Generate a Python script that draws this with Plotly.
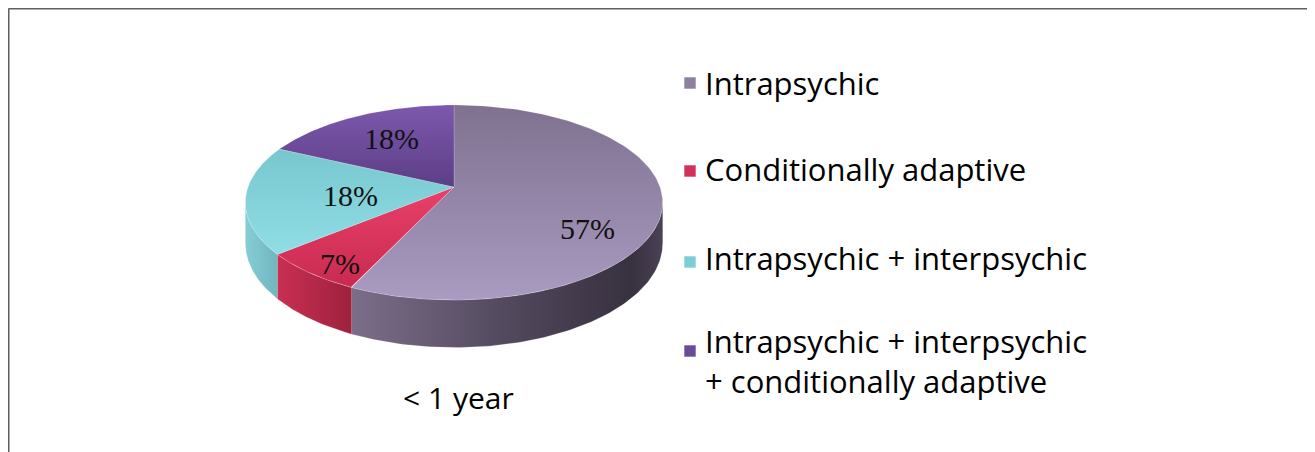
import numpy as np
import plotly.graph_objects as go

# ---- data ----
categories = ["Intrapsychic", "Conditionally adaptive", "Intrapsychic + interpsychic",
              "Intrapsychic + interpsychic<br>+ conditionally adaptive"]
values = [57, 7, 18, 18]
pct_labels = ["57%", "7%", "18%", "18%"]
chart_title = "< 1 year"

# ---- style ----
# vertical gradients: 0 -> bottom of the face, 1 -> top of the face
top_scales = [
    [[0, "#a99bc1"], [1, "#7f718f"]],
    [[0, "#c92a50"], [1, "#e8406a"]],
    [[0, "#8fdee6"], [1, "#78c6ce"]],
    [[0, "#5c3e86"], [1, "#7d58ad"]],
]
side_scales = [
    [[0, "#7c6e8a"], [0.55, "#4e4559"], [0.9, "#38313f"], [1, "#4a4255"]],
    [[0, "#c92f52"], [1, "#9e213e"]],
    [[0, "#86cdd5"], [1, "#6fb6be"]],
    [[0, "#5a3c84"], [1, "#4a3070"]],
]
legend_colors = ["#8e80a0", "#d2305a", "#7ccdd6", "#6a4a9a"]

PAGE_OFF = 8            # browser body margin
W, H = 1315, 452
VX, VY = 454, 187       # projected pie centre
A, B, K = 206, 95, 0.159  # radii and perspective strength
DEPTH = 40

fig = go.Figure()

fr = np.array(values, dtype=float) / sum(values)
cum = np.concatenate([[0], np.cumsum(fr)]) * 2 * np.pi


def persp(t):
    return 1.0 / (1.0 + K * np.cos(t))


def ex(t):
    return VX + A * np.sin(t) * persp(t)


def ey(t):
    return VY - B * np.cos(t) * persp(t)


# silhouette limits of the cylinder wall
T_L = np.arccos(-K)
T_R = 2 * np.pi - T_L

# side walls
for i in range(len(values)):
    t0, t1 = cum[i], cum[i + 1]
    s0, s1 = max(t0, T_L), min(t1, T_R)
    if s1 <= s0:
        continue
    t = np.linspace(s0, s1, 120)
    xs = np.concatenate([ex(t), ex(t[::-1])])
    ys = np.concatenate([ey(t), ey(t[::-1]) + DEPTH * persp(t[::-1])])
    fig.add_trace(go.Scatter(
        x=xs, y=ys, mode="lines", fill="toself",
        line=dict(width=0.6, color="rgba(255,255,255,0.3)"),
        fillgradient=dict(type="horizontal", colorscale=side_scales[i]),
        hoverinfo="skip", showlegend=False))

# top faces
for i in range(len(values)):
    t = np.linspace(cum[i], cum[i + 1], 160)
    xs = np.concatenate([[VX], ex(t), [VX]])
    ys = np.concatenate([[VY], ey(t), [VY]])
    fig.add_trace(go.Scatter(
        x=xs, y=ys, mode="lines", fill="toself",
        line=dict(width=0.6, color="rgba(255,255,255,0.3)"),
        fillgradient=dict(type="vertical", colorscale=top_scales[i]),
        name=categories[i], hoverinfo="skip", showlegend=False))

# percentage labels
label_xy = [(587, 228), (340, 263), (350, 195), (391, 138)]
for (lx, ly), txt in zip(label_xy, pct_labels):
    fig.add_annotation(x=lx, y=ly, text=txt, showarrow=False,
                       font=dict(family="Liberation Serif", size=30, color="#111111"))

# legend (manual)
leg_x_marker, leg_x_text = 690, 703
leg_y = [83, 171, 262, 351]
fig.add_trace(go.Scatter(
    x=[leg_x_marker] * 4, y=leg_y, mode="markers",
    marker=dict(symbol="square", size=12, color=legend_colors,
                line=dict(width=1, color="rgba(255,255,255,0.6)")),
    hoverinfo="skip", showlegend=False))
text_y = [83, 169, 258, 361]
for ty, txt in zip(text_y, categories):
    fig.add_annotation(x=leg_x_text, y=ty, text=txt, showarrow=False,
                       xanchor="left", yanchor="middle", align="left",
                       font=dict(family="Open Sans", size=31, color="#000000"))

fig.add_annotation(x=458, y=397, text=chart_title.replace("<", "&lt;"), showarrow=False,
                   font=dict(family="Open Sans", size=30, color="#000000"))

# border frame
fig.add_shape(type="line", x0=8.5, y0=8.5, x1=W, y1=8.5,
              line=dict(color="#5f5f5f", width=2))
fig.add_shape(type="line", x0=8.5, y0=8.5, x1=8.5, y1=H,
              line=dict(color="#5f5f5f", width=2))

fig.update_layout(
    width=W - PAGE_OFF, height=H - PAGE_OFF, autosize=False,
    margin=dict(l=0, r=0, t=0, b=0),
    paper_bgcolor="white", plot_bgcolor="white",
    xaxis=dict(range=[PAGE_OFF, W], visible=False, fixedrange=True),
    yaxis=dict(range=[H, PAGE_OFF], visible=False, fixedrange=True),
    showlegend=False,
)

fig.write_html("out.html")
